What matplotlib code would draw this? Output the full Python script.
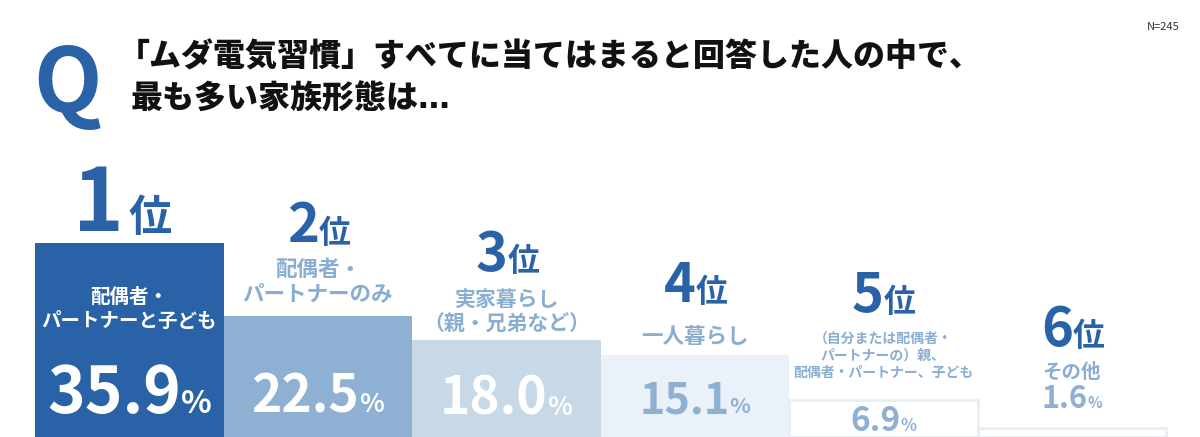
import matplotlib
matplotlib.use("Agg")
import matplotlib.pyplot as plt

plt.rcParams['font.family'] = ['Noto Sans CJK JP', 'DejaVu Sans']

# data
ranks = ["1", "2", "3", "4", "5", "6"]
labels = [
    "配偶者・\nパートナーと子ども",
    "配偶者・\nパートナーのみ",
    "実家暮らし\n（親・兄弟など）",
    "一人暮らし",
    "（自分または配偶者・\nパートナーの）親、\n配偶者・パートナー、子ども",
    "その他",
]
values = [35.9, 22.5, 18.0, 15.1, 6.9, 1.6]

BLUE = "#2a62a7"
bar_colors = [BLUE, "#8eb0d3", "#c7d8e7", "#eaf1f8", "white", "white"]
edge_colors = [BLUE, "#8eb0d3", "#c7d8e7", "#eaf1f8", "#e8eef5", "#e8eef5"]
label_colors = ["white", "#8aaed2", "#8aaed2", "#8aaed2", "#8aaed2", "#8aaed2"]
value_colors = ["white", "white", "white", "#8eb0d3", "#8eb0d3", "#8eb0d3"]

W, H = 1200, 437
fig = plt.figure(figsize=(W / 100, H / 100), dpi=100)
fig.patch.set_facecolor("white")

# bars area: x 35..1166 px, bottom at image bottom, 5.4 px per percent
ax = fig.add_axes([35 / W, 0, 1131 / W, 216 / H])
ax.set_xlim(-0.5, 5.5)
ax.set_ylim(0, 40)
ax.axis("off")

for i, v in enumerate(values):
    ax.bar(i, v, width=1.0, color=bar_colors[i], edgecolor=edge_colors[i],
           linewidth=2 if i >= 4 else 0, clip_on=False)

PT = 0.72  # px -> points at 100 dpi


def put(txt, i, dy_px, dx_px=0, **kw):
    return ax.annotate(txt, xy=(i, values[i]), xytext=(dx_px * PT, dy_px * PT),
                       textcoords="offset points", annotation_clip=False, **kw)


# rank labels: (digit size pt, 位 size pt, baseline px above bar top, dx digit, dx 位)
rank_style = [(62, 31, 12, -6, -1), (39, 23, 73, 1, 1), (39, 23, 69, 1, 1),
              (39, 23, 53, 1, 1), (39, 23, 88, 0, 0), (39, 23, 82, 1, 1)]
for i, r in enumerate(ranks):
    ds, ks, dy, dxd, dxk = rank_style[i]
    put(r, i, dy, dxd, ha="right", va="baseline", fontsize=ds,
        fontweight="bold", color=BLUE)
    put("位", i, dy, dxk, ha="left", va="baseline", fontsize=ks,
        fontweight="bold", color=BLUE)

# category labels: (fontsize, center px relative to bar top, line spacing)
label_style = [(14, -66, 1.3), (15.5, 34, 1.25), (15, 28, 1.2),
               (15.5, 19, 1.2), (10, 44, 1.25), (14, 56, 1.2)]
for i, lab in enumerate(labels):
    fs, dy, ls = label_style[i]
    put(lab, i, dy, ha="center", va="center", fontsize=fs, fontweight="bold",
        color=label_colors[i], linespacing=ls, multialignment="center")

# value labels: (number size pt, baseline px relative to bar top)
value_style = [(46, -170), (37, -97), (37, -75), (31, -58), (24, -31), (22, 20)]
renderer = fig.canvas.get_renderer()
for i, v in enumerate(values):
    ns, dy = value_style[i]
    num = put(f"{v:.1f}", i, dy, ha="left", va="baseline", fontsize=ns,
              fontweight="bold", color=value_colors[i])
    pct = put("%", i, dy, ha="left", va="baseline", fontsize=ns * 0.5,
              fontweight="bold", color=value_colors[i])
    wn = num.get_window_extent(renderer).width
    wp = pct.get_window_extent(renderer).width
    x0 = -(wn + wp) / 2
    num.xyann = (x0 * PT, dy * PT)
    pct.xyann = ((x0 + wn) * PT, dy * PT)

# header
fig.text(33 / W, 1 - 112 / H, "Q", fontsize=64, fontweight="bold",
         color=BLUE, ha="left", va="baseline")
fig.text(118 / W, 1 - 57 / H, "「ムダ電気習慣」すべてに当てはまると回答した人の中で、",
         fontsize=23, fontweight="black", color="#111111", ha="left", va="center")
fig.text(131 / W, 1 - 100 / H, "最も多い家族形態は…",
         family=["DejaVu Sans", "Noto Sans CJK JP"],
         fontsize=23, fontweight="black", color="#111111", ha="left", va="center")
fig.text(1180 / W, 1 - 27 / H, "N=245", fontsize=8, color="#333333",
         ha="right", va="center")

fig.savefig("out.png", dpi=100, facecolor="white")
